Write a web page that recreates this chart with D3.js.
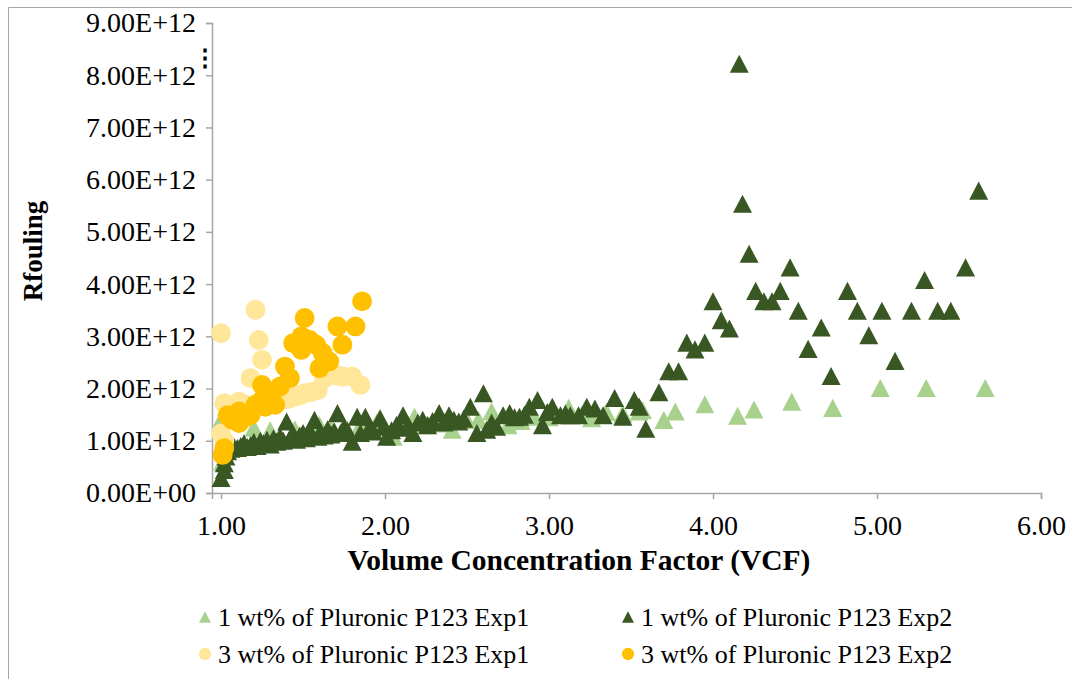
<!DOCTYPE html>
<html>
<head>
<meta charset="utf-8">
<script src="https://cdn.jsdelivr.net/npm/d3@7"></script>
<style>
  body { margin: 0; background: #fff; }
  svg { display: block; }
  svg text { font-family: "Liberation Serif", "Times New Roman", serif; }
</style>
</head>
<body>
<script>
// values, Rfouling in units of 1E+12

const seriesNames = ["1 wt% of Pluronic P123 Exp1", "1 wt% of Pluronic P123 Exp2",
                     "3 wt% of Pluronic P123 Exp1", "3 wt% of Pluronic P123 Exp2"];

const lgExp1X = [1.00, 1.01, 1.20, 1.30, 1.45, 1.55, 1.60, 1.67, 1.75, 1.85, 1.95, 2.05, 2.18,
                 2.25, 2.35, 2.41, 2.50, 2.57, 2.65, 2.75, 2.83, 2.91, 3.00, 3.12, 3.20, 3.26,
                 3.35, 3.45, 3.55, 3.57, 3.70, 3.77, 3.95, 4.15, 4.25, 4.48, 4.73, 5.02, 5.30, 5.66];
const lgExp1Y = [1.40, 0.60, 1.25, 1.20, 1.22, 1.25, 1.30, 1.24, 1.28, 1.30, 1.35, 1.08, 1.46,
                 1.30, 1.33, 1.21, 1.40, 1.40, 1.56, 1.30, 1.38, 1.46, 1.45, 1.63, 1.50, 1.43,
                 1.55, 1.52, 1.56, 1.59, 1.40, 1.56, 1.70, 1.48, 1.60, 1.75, 1.63, 2.01, 2.01, 2.01];

const lgExp2X = [1.00, 1.02, 1.02, 1.03, 1.04, 1.06, 1.08, 1.10, 1.12, 1.14, 1.16, 1.18, 1.20,
                 1.22, 1.24, 1.26, 1.28, 1.30, 1.32, 1.34, 1.36, 1.38, 1.40, 1.42, 1.44, 1.46,
                 1.48, 1.50, 1.52, 1.54, 1.57, 1.59, 1.61, 1.63, 1.65, 1.67, 1.69, 1.71, 1.73,
                 1.75, 1.77, 1.80, 1.83, 1.85, 1.88, 1.90, 1.93, 1.97, 1.99, 2.01, 2.04, 2.07,
                 2.09, 2.11, 2.14, 2.17, 2.20, 2.23, 2.26, 2.29, 2.33, 2.36, 2.39, 2.42, 2.45,
                 2.48, 2.52, 2.56, 2.60, 2.62, 2.65, 2.68, 2.72, 2.76, 2.79, 2.82, 2.85, 2.88,
                 2.93, 2.96, 2.99, 3.02, 3.07, 3.10, 3.13, 3.18, 3.23, 3.28, 3.33, 3.40, 3.45,
                 3.52, 3.55, 3.59, 3.67, 3.73, 3.79, 3.84, 3.89, 3.95, 4.00, 4.05, 4.10, 4.16,
                 4.18, 4.22, 4.26, 4.31, 4.36, 4.41, 4.47, 4.52, 4.58, 4.66, 4.72, 4.82, 4.88,
                 4.95, 5.03, 5.11, 5.21, 5.29, 5.37, 5.45, 5.54, 5.62];
const lgExp2Y = [0.29, 0.44, 0.57, 0.70, 0.80, 0.85, 0.88, 0.86, 0.90, 0.95, 0.88, 0.92, 0.98,
                 0.90, 1.00, 0.95, 1.02, 0.93, 1.05, 0.98, 1.08, 1.00, 1.37, 1.05, 1.12, 1.02,
                 1.10, 1.15, 1.05, 1.20, 1.40, 1.08, 1.15, 1.10, 1.22, 1.12, 1.18, 1.53, 1.15,
                 1.25, 1.20, 0.98, 1.46, 1.15, 1.46, 1.22, 1.18, 1.43, 1.27, 1.08, 1.20, 1.30,
                 1.25, 1.49, 1.30, 1.15, 1.35, 1.40, 1.30, 1.38, 1.53, 1.35, 1.49, 1.40, 1.37,
                 1.42, 1.65, 1.15, 1.91, 1.21, 1.35, 1.27, 1.49, 1.53, 1.45, 1.46, 1.50, 1.65,
                 1.78, 1.30, 1.55, 1.65, 1.49, 1.52, 1.49, 1.49, 1.65, 1.62, 1.49, 1.82, 1.46,
                 1.78, 1.65, 1.23, 1.93, 2.33, 2.33, 2.88, 2.75, 2.88, 3.67, 3.31, 3.15, 8.22,
                 5.54, 4.58, 3.87, 3.67, 3.67, 3.87, 4.32, 3.49, 2.76, 3.17, 2.24, 3.87, 3.49,
                 3.02, 3.49, 2.53, 3.49, 4.08, 3.49, 3.49, 4.32, 5.79];

const ylExp1X = [1.00, 1.00, 1.02, 1.02, 1.05, 1.08, 1.11, 1.14, 1.18, 1.21, 1.23, 1.25, 1.28,
                 1.32, 1.37, 1.41, 1.45, 1.49, 1.51, 1.55, 1.59, 1.63, 1.67, 1.71, 1.74, 1.80, 1.85];
const ylExp1Y = [3.06, 1.14, 1.00, 1.72, 1.62, 1.55, 1.75, 1.70, 2.20, 3.51, 2.93, 2.55, 1.75,
                 1.80, 1.78, 1.80, 1.84, 1.88, 1.91, 1.93, 1.97, 2.20, 2.26, 2.25, 2.23, 2.23, 2.07];

const ylExp2X = [1.01, 1.02, 1.04, 1.05, 1.07, 1.09, 1.11, 1.11, 1.15, 1.18, 1.21, 1.25, 1.25,
                 1.27, 1.27, 1.31, 1.31, 1.33, 1.36, 1.39, 1.42, 1.44, 1.49, 1.49, 1.51, 1.54,
                 1.58, 1.60, 1.62, 1.66, 1.71, 1.74, 1.82, 1.86];
const ylExp2Y = [0.73, 0.86, 1.49, 1.46, 1.40, 1.40, 1.56, 1.34, 1.45, 1.50, 1.69, 1.78, 2.07,
                 1.91, 1.65, 1.91, 1.72, 1.69, 2.04, 2.42, 2.20, 2.87, 3.00, 2.74, 3.35, 2.93,
                 2.84, 2.39, 2.68, 2.52, 3.19, 2.84, 3.19, 3.67];

const xTicks = [1, 2, 3, 4, 5, 6];
const yTicks = [0, 1, 2, 3, 4, 5, 6, 7, 8, 9];

const WIDTH = 1072, HEIGHT = 679;
const plot = {left: 212, right: 1041, top: 23, bottom: 493};

const colors = ["#a9d18e", "#385723", "#ffe699", "#ffc000"];

// Excel's triangle marker is a bit taller than an equilateral one
let triangle = {
  draw(context, size) {
    let w = Math.sqrt(size), h = w * 0.95;
    context.moveTo(0, -h / 2);
    context.lineTo(w / 2, h / 2);
    context.lineTo(-w / 2, h / 2);
    context.closePath();
  }
};

const shapes = [triangle, triangle, d3.symbolCircle, d3.symbolCircle];
const sizes  = [361, 361, 310, 310];
const legendSizes = [144, 144, 120, 120];

let series = [
  {name: seriesNames[0], xs: lgExp1X, ys: lgExp1Y},
  {name: seriesNames[1], xs: lgExp2X, ys: lgExp2Y},
  {name: seriesNames[2], xs: ylExp1X, ys: ylExp1Y},
  {name: seriesNames[3], xs: ylExp2X, ys: ylExp2Y}
];

let svg = d3.select("body").append("svg")
    .attr("width", WIDTH)
    .attr("height", HEIGHT);

// frame of the chart area
svg.append("path")
    .attr("d", "M8.5," + HEIGHT + "V7.5H" + WIDTH)
    .attr("fill", "none")
    .attr("stroke", "#a6a6a6");

let xScale = d3.scaleLinear().domain([0.945, 6]).range([plot.left, plot.right]);
let yScale = d3.scaleLinear().domain([0, 9e12]).range([plot.bottom, plot.top]);

let fmtY = d => d === 0 ? "0.00E+00" : (d / 1e12).toFixed(2) + "E+12";

let xAxis = svg.append("g")
    .attr("transform", "translate(0," + plot.bottom + ")")
    .call(d3.axisBottom(xScale).tickValues(xTicks).tickFormat(d3.format(".2f"))
            .tickSize(6).tickPadding(16));

let yAxis = svg.append("g")
    .attr("transform", "translate(" + plot.left + ",0)")
    .call(d3.axisLeft(yScale).tickValues(yTicks.map(v => v * 1e12)).tickFormat(fmtY)
            .tickSize(6).tickPadding(10));

svg.selectAll(".domain, .tick line").attr("stroke", "#a6a6a6").attr("stroke-width", 1.5);
svg.selectAll(".tick text")
    .attr("fill", "#000")
    .attr("font-size", 28)
    .attr("font-family", "Liberation Serif, serif");
xAxis.selectAll(".tick text").attr("dy", "0.71em");

// the three dots left of the top of the value axis
svg.append("text")
    .attr("x", 205)
    .attr("y", 60)
    .attr("text-anchor", "middle")
    .attr("dominant-baseline", "middle")
    .attr("font-size", 24)
    .attr("font-weight", "bold")
    .text("\u22EE");

// points
series.forEach((s, i) => {
  let pts = s.xs.map((x, j) => ({x: x, y: s.ys[j] * 1e12}));
  svg.append("g").selectAll("path")
      .data(pts)
      .enter().append("path")
      .attr("transform", d => "translate(" + xScale(d.x) + "," + yScale(d.y) + ")")
      .attr("d", d3.symbol().type(shapes[i]).size(sizes[i]))
      .attr("fill", colors[i]);
});

// axis titles
svg.append("text")
    .attr("x", 579)
    .attr("y", 570)
    .attr("text-anchor", "middle")
    .attr("font-size", 29.5)
    .attr("font-weight", "bold")
    .text("Volume Concentration Factor (VCF)");

svg.append("text")
    .attr("transform", "translate(42,251) rotate(-90)")
    .attr("text-anchor", "middle")
    .attr("font-size", 27)
    .attr("font-weight", "bold")
    .text("Rfouling");

// legend, two columns by two rows
let legendPos = [[205, 617], [628, 617], [205, 654], [628, 654]];
let legend = svg.append("g").selectAll("g")
    .data(series)
    .enter().append("g")
    .attr("transform", (d, i) => "translate(" + legendPos[i][0] + "," + legendPos[i][1] + ")");

legend.append("path")
    .attr("d", (d, i) => d3.symbol().type(shapes[i]).size(legendSizes[i])())
    .attr("fill", (d, i) => colors[i]);

legend.append("text")
    .attr("x", 13)
    .attr("dy", "0.35em")
    .attr("font-size", 26)
    .text(d => d.name);
</script>
</body>
</html>
